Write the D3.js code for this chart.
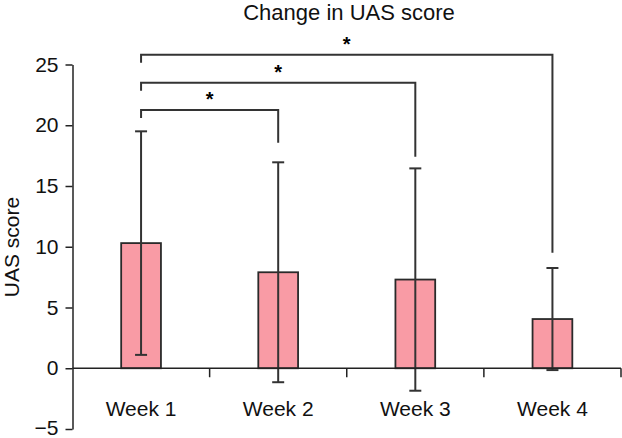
<!DOCTYPE html>
<html><head><meta charset="utf-8">
<script src="https://cdn.jsdelivr.net/npm/d3@7"></script>
<style>body{margin:0;background:#fff}svg{display:block}text{font-family:"Liberation Sans",Arial,sans-serif}</style>
</head><body><svg id="c" width="622" height="438"></svg>
<script>
const categories = ["Week 1", "Week 2", "Week 3", "Week 4"];
const means = [10.3, 7.9, 7.3, 4.05];
const sds = [9.2, 9.05, 9.15, 4.2];
const yTicks = [-5, 0, 5, 10, 15, 20, 25];
const sigFrom = [0, 0, 0];
const sigTo = [1, 2, 3];
const sigLevel = [21.25, 23.5, 25.8];
const sigRightEnd = [18.55, 17.4, 9.5];
const sigLabel = ["*", "*", "*"];

const svg = d3.select("#c");
const x = d3.scaleBand().domain(categories).range([72.5, 621]).padding(0);
const y = d3.scaleLinear().domain([-5, 25]).range([429, 64.5]);
const barW = x.bandwidth() * 0.29;
const cx = c => x(c) + x.bandwidth() / 2;
const ink = "#333";

// title
svg.append("text").attr("x", 349).attr("y", 20).attr("text-anchor", "middle")
  .attr("font-size", 22).attr("fill", "#111").text("Change in UAS score");

// y label
svg.append("text").attr("transform", "translate(19,247) rotate(-90)")
  .attr("text-anchor", "middle").attr("font-size", 21).attr("fill", "#111").text("UAS score");

// bars
svg.selectAll("rect.bar").data(categories).join("rect")
  .attr("x", c => cx(c) - barW / 2).attr("width", barW)
  .attr("y", (c, i) => y(Math.max(0, means[i])))
  .attr("height", (c, i) => Math.abs(y(means[i]) - y(0)))
  .attr("fill", "#F99BA5").attr("stroke", "#2a2a2a").attr("stroke-width", 1.8);

// error bars
const eb = svg.append("g").attr("stroke", ink).attr("stroke-width", 2);
categories.forEach((c, i) => {
  const hi = y(means[i] + sds[i]), lo = y(means[i] - sds[i]);
  eb.append("line").attr("x1", cx(c)).attr("x2", cx(c)).attr("y1", hi).attr("y2", lo);
  eb.append("line").attr("x1", cx(c) - 6).attr("x2", cx(c) + 6).attr("y1", hi).attr("y2", hi);
  eb.append("line").attr("x1", cx(c) - 6).attr("x2", cx(c) + 6).attr("y1", lo).attr("y2", lo);
});

// y axis
const yAxis = svg.append("g").attr("transform", "translate(72.5,0)")
  .call(d3.axisLeft(y).tickValues(yTicks).tickSize(7).tickSizeOuter(0).tickPadding(7)
    .tickFormat(d => d < 0 ? "\u2212" + Math.abs(d) : d));
yAxis.selectAll("text").attr("font-size", 21).attr("fill", "#111").style("font-family", '"Liberation Sans",Arial,sans-serif');
yAxis.selectAll("text").filter(d => d < 0).attr("dy", "0.25em");
yAxis.selectAll("line,path").attr("stroke", "#222").attr("stroke-width", 1.5);

// x axis (at zero)
const xg = svg.append("g").attr("transform", `translate(0,${y(0)})`);
xg.append("line").attr("x1", 72.5).attr("x2", 621).attr("stroke", "#222").attr("stroke-width", 1.5);
categories.forEach(c => {
  xg.append("line").attr("x1", x(c) + x.bandwidth()).attr("x2", x(c) + x.bandwidth())
    .attr("y1", 0).attr("y2", 9).attr("stroke", "#222").attr("stroke-width", 1.5);
  xg.append("text").attr("x", cx(c)).attr("y", 48).attr("text-anchor", "middle")
    .attr("font-size", 21).attr("fill", "#111").text(c);
});

// significance brackets
const sg = svg.append("g").attr("fill", "none").attr("stroke", ink).attr("stroke-width", 2);
sigFrom.forEach((f, k) => {
  const x1 = cx(categories[f]), x2 = cx(categories[sigTo[k]]);
  const yl = y(sigLevel[k]);
  sg.append("path").attr("d", `M${x1},${yl + 8}V${yl}H${x2}V${y(sigRightEnd[k])}`);
  svg.append("text").attr("x", (x1 + x2) / 2).attr("y", yl - 4).attr("text-anchor", "middle")
    .attr("font-size", 20).attr("font-weight", "bold").text(sigLabel[k]);
});
</script></body></html>
